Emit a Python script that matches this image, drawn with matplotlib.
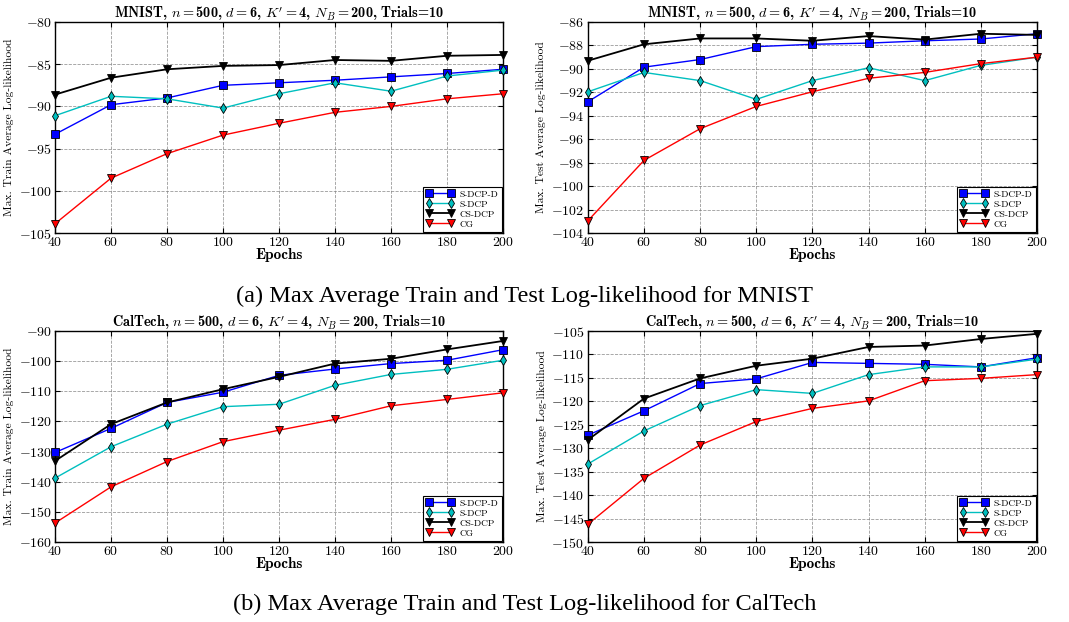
import matplotlib
matplotlib.use('Agg')
import matplotlib.pyplot as plt
import numpy as np

plt.rcParams['mathtext.fontset'] = 'cm'
plt.rcParams['axes.formatter.use_mathtext'] = True
plt.rcParams['font.family'] = ['cmr10', 'DejaVu Serif']
plt.rcParams['axes.unicode_minus'] = True

epochs = [40, 60, 80, 100, 120, 140, 160, 180, 200]

# MNIST train
mnist_train_sdcpd = [-93.3, -89.8, -89.0, -87.5, -87.2, -86.9, -86.5, -86.1, -85.6]
mnist_train_sdcp = [-91.1, -88.8, -89.1, -90.2, -88.5, -87.2, -88.2, -86.4, -85.7]
mnist_train_csdcp = [-88.6, -86.6, -85.6, -85.2, -85.1, -84.5, -84.6, -84.0, -83.9]
mnist_train_cg = [-103.9, -98.5, -95.6, -93.4, -92.0, -90.7, -90.0, -89.1, -88.5]

# MNIST test
mnist_test_sdcpd = [-92.8, -89.85, -89.2, -88.1, -87.9, -87.8, -87.6, -87.45, -87.0]
mnist_test_sdcp = [-91.95, -90.3, -91.0, -92.6, -91.0, -89.9, -91.0, -89.7, -89.0]
mnist_test_csdcp = [-89.3, -87.9, -87.4, -87.4, -87.6, -87.2, -87.5, -87.0, -87.1]
mnist_test_cg = [-102.95, -97.8, -95.1, -93.2, -91.95, -90.8, -90.3, -89.55, -89.0]

# CalTech train
cal_train_sdcpd = [-130.3, -122.3, -113.7, -110.3, -104.7, -102.6, -100.8, -99.7, -96.2]
cal_train_sdcp = [-138.8, -128.4, -120.9, -115.1, -114.3, -108.0, -104.4, -102.7, -99.7]
cal_train_csdcp = [-133.1, -120.9, -113.7, -109.3, -105.2, -100.8, -99.2, -96.1, -93.3]
cal_train_cg = [-153.7, -141.7, -133.3, -126.7, -122.9, -119.3, -114.8, -112.7, -110.5]

# CalTech test
cal_test_sdcpd = [-127.2, -122.0, -116.2, -115.2, -111.7, -111.9, -112.1, -112.65, -110.7]
cal_test_sdcp = [-133.35, -126.3, -120.9, -117.5, -118.3, -114.3, -112.65, -112.65, -111.0]
cal_test_csdcp = [-128.2, -119.4, -115.1, -112.4, -110.9, -108.4, -108.1, -106.7, -105.6]
cal_test_cg = [-146.2, -136.4, -129.3, -124.3, -121.5, -119.9, -115.6, -115.1, -114.3]

labels = ['S-DCP-D', 'S-DCP', 'CS-DCP', 'CG']
colors = ['blue', 'c', 'black', 'red']
markers = ['s', 'd', 'v', 'v']

title_mnist = r"MNIST, $n=$500, $d=$6, $K'=$4, $N_B=$200, Trials=10"
title_cal = r"CalTech, $n=$500, $d=$6, $K'=$4, $N_B=$200, Trials=10"

panels = [
    ([0.0515, 0.6254, 0.419, 0.3392], title_mnist, 'Max. Train Average Log-likelihood',
     [mnist_train_sdcpd, mnist_train_sdcp, mnist_train_csdcp, mnist_train_cg], (-105, -80), 5),
    ([0.550, 0.6254, 0.420, 0.3392], title_mnist, 'Max. Test Average Log-likelihood',
     [mnist_test_sdcpd, mnist_test_sdcp, mnist_test_csdcp, mnist_test_cg], (-104, -86), 2),
    ([0.0515, 0.1286, 0.419, 0.3392], title_cal, 'Max. Train Average Log-likelihood',
     [cal_train_sdcpd, cal_train_sdcp, cal_train_csdcp, cal_train_cg], (-160, -90), 10),
    ([0.550, 0.1286, 0.420, 0.3392], title_cal, 'Max. Test Average Log-likelihood',
     [cal_test_sdcpd, cal_test_sdcp, cal_test_csdcp, cal_test_cg], (-150, -105), 5),
]

fig = plt.figure(figsize=(10.69, 6.22), dpi=100)

for rect, title, ylabel, series, ylim, step in panels:
    ax = fig.add_axes(rect)
    for vals, lab, col, mk in zip(series, labels, colors, markers):
        ax.plot(epochs, vals, color=col, marker=mk, markersize=5.5,
                markeredgecolor='black', markeredgewidth=0.6,
                linewidth=1.3 if col == 'black' else 1.0, label=lab,
                clip_on=False, zorder=3)
    ax.set_xlim(40, 200)
    ax.set_ylim(*ylim)
    ax.set_xticks(np.arange(40, 201, 20))
    ax.set_yticks(np.arange(ylim[0], ylim[1] + 0.1, step))
    ax.grid(True, linestyle='--', color='gray', linewidth=0.6, alpha=0.8)
    ax.tick_params(direction='in', top=True, right=True, labelsize=10)
    ax.tick_params(axis='x', pad=2.5)
    ax.tick_params(axis='y', pad=2.5)
    for s in ax.spines.values():
        s.set_linewidth(1.0)
    ax.set_title(title, fontsize=10.3, fontfamily='cmb10', pad=3)
    ax.set_xlabel('Epochs', fontsize=11, fontfamily='cmb10', labelpad=-1)
    ax.set_ylabel(ylabel, fontsize=8.3, labelpad=3.5)
    leg = ax.legend(loc='lower right', fontsize=6.8, numpoints=2, fancybox=False,
                    framealpha=1, edgecolor='black', handlelength=3.0,
                    borderaxespad=0.15, labelspacing=0.15, borderpad=0.3,
                    handletextpad=0.6)
    leg.get_frame().set_linewidth(0.8)

fig.text(0.491, 0.524, '(a) Max Average Train and Test Log-likelihood for MNIST',
         ha='center', va='center', fontsize=17.6, fontfamily='Liberation Serif')
fig.text(0.491, 0.029, '(b) Max Average Train and Test Log-likelihood for CalTech',
         ha='center', va='center', fontsize=17.6, fontfamily='Liberation Serif')

fig.savefig('out.png', dpi=100)
